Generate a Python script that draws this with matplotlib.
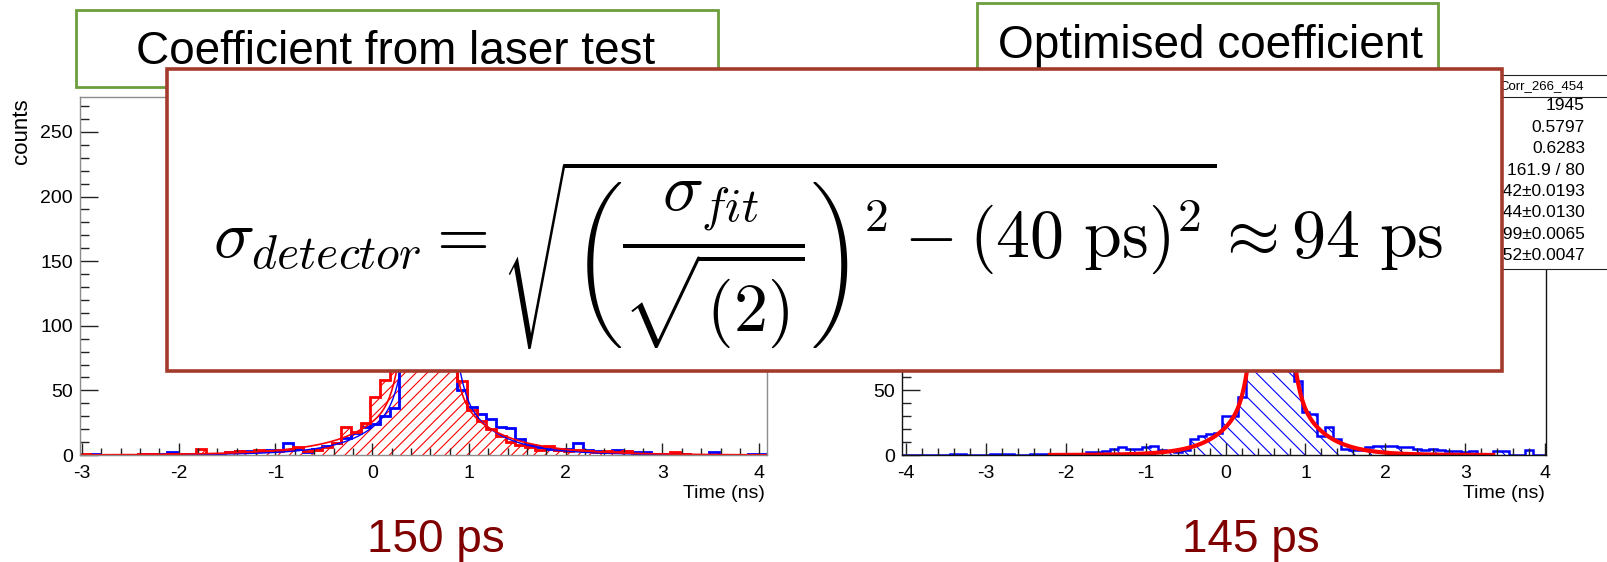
import matplotlib
matplotlib.use("Agg")
import matplotlib.pyplot as plt
import numpy as np
from matplotlib.patches import Rectangle
from matplotlib.ticker import MultipleLocator, FuncFormatter

plt.rcParams["font.family"] = ["Liberation Sans", "DejaVu Sans"]
plt.rcParams["mathtext.fontset"] = "cm"
plt.rcParams["axes.unicode_minus"] = False
plt.rcParams["hatch.linewidth"] = 0.8

W, H = 1608, 562

# time difference histograms, 0.1 ns bins
left_first_edge = -3.02
left_red = [1, 0, 0, 0, 0, 0, 1, 1, 0, 1, 1, 0, 5, 1, 0, 2, 3, 2, 4, 3,
            3, 4, 6, 3, 4, 6, 9, 22, 18, 25, 45, 58, 92, 160, 228, 262, 245, 170, 92, 57,
            35, 26, 20, 15, 10, 8, 6, 4, 7, 4, 3, 4, 3, 2, 3, 2, 3, 1, 1, 1,
            1, 2, 1, 0, 0, 0, 0, 0, 0, 0, 0]
left_blue = [0, 1, 0, 0, 0, 0, 1, 1, 1, 2, 1, 1, 1, 1, 1, 2, 3, 3, 3, 4,
             4, 9, 5, 2, 5, 7, 9, 13, 17, 22, 24, 30, 36, 95, 180, 240, 255, 215, 110, 50,
             37, 32, 28, 22, 21, 12, 8, 6, 5, 4, 5, 9, 4, 3, 2, 4, 3, 2, 2, 1,
             1, 1, 1, 0, 0, 2, 0, 0, 0, 1, 1]

right_first_edge = -4.05
right_blue = [0, 0, 0, 0, 0, 0, 1, 1, 0, 0, 0, 1, 1, 1, 0, 0, 1, 1, 1, 1,
              0, 1, 1, 2, 2, 3, 5, 6, 5, 5, 6, 7, 4, 3, 2, 4, 12, 15, 16, 17,
              30, 30, 45, 140, 220, 262, 258, 230, 160, 57, 33, 32, 15, 22, 12, 5, 4, 4, 6, 7,
              7, 7, 6, 6, 5, 4, 5, 4, 3, 3, 2, 3, 1, 0, 3, 3, 0, 0, 4, 0,
              0]

# fit shapes: mean, core amplitude, core sigma, exp amplitude, exp tau, tail amplitude, tail tau
left_red_fit = [0.56, 160, 0.15, 60, 0.30, 40, 0.62]
left_blue_fit = [0.60, 150, 0.15, 100, 0.33, 12, 0.70]
right_fit = [0.574, 150, 0.15, 113, 0.345, 0, 1.0]
left_red_range = (-3.02, 4.08)
left_blue_range = (-2.5, 3.5)
right_range = (-2.2, 3.35)

stats_name = "Corr_266_454"
stats_values = ["1945", "0.5797", "0.6283", "161.9 / 80", "0.4442\u00b10.0193",
                "0.5744\u00b10.0130", "0.1199\u00b10.0065", "0.3452\u00b10.0047"]

box_titles = ["Coefficient from laser test", "Optimised coefficient"]
resolutions = ["150 ps", "145 ps"]
formula = (r"$\sigma_{detector} = \sqrt{\left(\dfrac{\sigma_{fit}}{\sqrt{(2)}}\right)^2"
           r" - (40\ \mathrm{ps})^2} \approx 94\ \mathrm{ps}$")


def fx(x):
    return x / W


def fy(y):
    return 1 - y / H


def edges(first, n):
    return first + 0.1 * np.arange(n + 1)


def fit_shape(t, p):
    mu, ag, sg, ae, tau, ab, taub = p
    d = t - mu
    return (ag * np.exp(-0.5 * (d / sg) ** 2) + ae * np.exp(-np.abs(d) / tau)
            + ab * np.exp(-np.abs(d) / taub))


def style_axes(ax, xlim, frame_color):
    ax.set_xlim(*xlim)
    ax.set_ylim(0, 277)
    ax.xaxis.set_major_locator(MultipleLocator(1))
    ax.xaxis.set_minor_locator(MultipleLocator(0.2))
    ax.yaxis.set_major_locator(MultipleLocator(50))
    ax.yaxis.set_minor_locator(MultipleLocator(10))
    ax.tick_params(which="both", direction="in", color="#222222", labelsize=14, width=1)
    ax.tick_params(axis="x", which="major", length=8.5, pad=7)
    ax.tick_params(axis="x", which="minor", length=5)
    ax.tick_params(axis="y", which="major", length=13, pad=5)
    ax.tick_params(axis="y", which="minor", length=6.5)
    for s in ax.spines.values():
        s.set_color(frame_color)
        s.set_linewidth(1)


fig = plt.figure(figsize=(W / 100, H / 100), dpi=100)

# left pad: laser-test coefficient
ax1 = fig.add_axes([fx(80), fy(455), (767 - 80) / W, (455 - 97) / H])
e1 = edges(left_first_edge, len(left_red))
ax1.stairs(left_red, e1, fill=True, facecolor="none", edgecolor="red", hatch="///", linewidth=0)
ax1.stairs(left_blue, e1, color="blue", linewidth=2)
ax1.stairs(left_red, e1, color="red", linewidth=2)
t = np.linspace(*left_blue_range, 600)
ax1.plot(t, fit_shape(t, left_blue_fit), color="blue", linewidth=1.0)
t = np.linspace(*left_red_range, 700)
ax1.plot(t, fit_shape(t, left_red_fit), color="red", linewidth=1.2)
style_axes(ax1, (-3.02, 4.08), "#8c8c8c")

# right pad: optimised coefficient
ax2 = fig.add_axes([fx(902), fy(455), (1546 - 902) / W, (455 - 97) / H])
e2 = edges(right_first_edge, len(right_blue))
ax2.stairs(right_blue, e2, fill=True, facecolor="none", edgecolor="blue", hatch="\\\\", linewidth=0)
ax2.stairs(right_blue, e2, color="blue", linewidth=1.8)
t = np.linspace(*right_range, 600)
ax2.plot(t, fit_shape(t, right_fit), color="red", linewidth=3)
style_axes(ax2, (-4.05, 4.01), "#111111")
# upper labels of this pad sit under the formula box
ax2.yaxis.set_major_formatter(FuncFormatter(lambda v, pos: f"{v:g}" if v <= 50 else ""))

fig.text(fx(22), fy(98), "counts", rotation=90, ha="center", va="top", fontsize=16)
fig.text(fx(765), fy(494), "Time (ns)", ha="right", va="center", fontsize=14)
fig.text(fx(1545), fy(494), "Time (ns)", ha="right", va="center", fontsize=14)

# stats box of the right pad
fig.add_artist(Rectangle((fx(1420), fy(269)), (1620 - 1420) / W, (269 - 75) / H,
                         transform=fig.transFigure, facecolor="white",
                         edgecolor="#222222", linewidth=0.8, zorder=2))
fig.add_artist(plt.Line2D([fx(1420), fx(1620)], [fy(97), fy(97)],
                          transform=fig.transFigure, color="#222222", linewidth=0.8, zorder=2))
fig.text(fx(1499), fy(86), stats_name, ha="left", va="center", fontsize=9.5, zorder=3)
for i, val in enumerate(stats_values):
    fig.text(fx(1585), fy(106 + 21.4 * i), val, ha="right", va="center", fontsize=12.5, zorder=3)

# title boxes
green = "#6c9e3c"
for (x0, y0, x1, y1), title, (tx, ty) in zip(
        [(76, 10, 718, 87), (977, 3, 1438, 120)], box_titles, [(396, 52), (1210, 46)]):
    fig.add_artist(Rectangle((fx(x0), fy(y1)), (x1 - x0) / W, (y1 - y0) / H,
                             transform=fig.transFigure, facecolor="white",
                             edgecolor=green, linewidth=2, zorder=2))
    fig.text(fx(tx), fy(ty), title, ha="center", va="center", fontsize=33, zorder=3)

# formula box
fig.add_artist(Rectangle((fx(167), fy(371)), (1502 - 167) / W, (371 - 69) / H,
                         transform=fig.transFigure, facecolor="white",
                         edgecolor="#a33a2c", linewidth=2.6, zorder=5))
fig.text(fx(213), fy(258), formula, ha="left", va="baseline", fontsize=49, zorder=6)

for x, label in zip([436, 1251], resolutions):
    fig.text(fx(x), fy(540), label, ha="center", va="center", fontsize=33, color="#800000")

fig.savefig("out.png", dpi=100, facecolor="white")
